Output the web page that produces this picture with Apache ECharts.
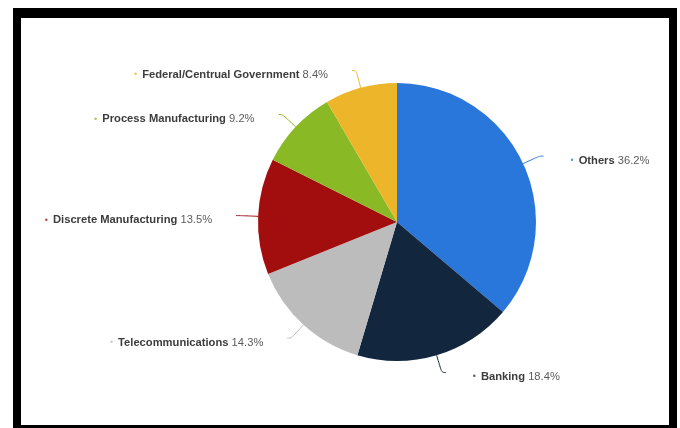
<!DOCTYPE html>
<html>
<head>
<meta charset="utf-8">
<script src="https://cdn.jsdelivr.net/npm/echarts@6/dist/echarts.min.js"></script>
<style>
html,body{margin:0;padding:0;background:#fff;}
#frame{position:absolute;left:13px;top:8px;width:648px;height:407px;border-style:solid;border-color:#000;border-width:10px 8px 10px 8px;background:#fff;}
#chart{position:absolute;left:0;top:0;width:680px;height:428px;}
</style>
</head>
<body>
<div id="frame"></div>
<div id="chart"></div>
<script>
const categories = ['Others', 'Banking', 'Telecommunications', 'Discrete Manufacturing', 'Process Manufacturing', 'Federal/Centrual Government'];
const shares = [36.2, 18.4, 14.3, 13.5, 9.2, 8.4];
const colors = ['#2a77dc', '#12263e', '#bcbcbc', '#a20d0e', '#89ba26', '#ecb52a'];

const FONT = 'Liberation Sans';
const chart = echarts.init(document.getElementById('chart'), null, {renderer: 'canvas'});
const data = categories.map((c, i) => ({
  name: c,
  value: shares[i],
  itemStyle: {color: colors[i]},
  label: {
    distanceToLabelLine: i < 2 ? 27 : 24,
    rich: {b: {color: colors[i], opacity: 0.75, fontSize: 9, fontFamily: FONT, padding: [0, 5, 0, 0]}}
  }
}));
chart.setOption({
  animation: false,
  series: [{
    type: 'pie',
    center: [397, 222],
    radius: 139,
    startAngle: 90,
    clockwise: true,
    avoidLabelOverlap: false,
    data: data,
    itemStyle: {borderColor: '#fff', borderWidth: 0},
    label: {
      show: true,
      fontFamily: FONT,
      fontSize: 11.2,
      padding: [9, 0, 0, 0],
      formatter: p => '{b|•}{n|' + p.name + '} {v|' + p.value.toFixed(1) + '%}',
      rich: {
        n: {fontWeight: 'bold', color: '#3c3c3c', fontSize: 11.2, fontFamily: FONT},
        v: {color: '#5c5c5c', fontSize: 11.2, fontFamily: FONT}
      }
    },
    labelLine: {
      show: true,
      length: 18,
      length2: 4,
      smooth: 0.4,
      lineStyle: {width: 1}
    }
  }]
});
</script>
</body>
</html>
